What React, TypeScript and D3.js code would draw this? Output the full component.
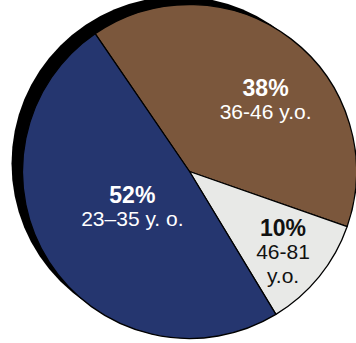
import React from "react";
import * as d3 from "d3";

// Slice order (clockwise from the top-left boundary)
const categories = ["36-46 y.o.", "46-81 y.o.", "23–35 y. o."];
const percentLabels = ["38%", "10%", "52%"];
const ageLines = [["36-46 y.o."], ["46-81", "y.o."], ["23–35 y. o."]];
// Slice sizes as drawn in the picture (angle shares, %)
const sliceShares = [39.9, 11.0, 49.1];
const sliceColors = ["#7B573C", "#E8E9E7", "#25366F"];
const textColors = ["#ffffff", "#111111", "#ffffff"];

const W = 356;
const H = 343;
const cx = 189.5;
const cy = 171.5;
const R = 167;
const startDeg = -34.4;
const shadowDx = -11;
const shadowDy = -8;

// label placement (layout): [angle offset from slice mid (deg), radius fraction]
const labelLayout: [number, number][] = [
  [8.9, 0.63],
  [1.3, 0.735],
  [1.6, 0.4],
];

export default function App() {
  const toRad = (d: number) => (d * Math.PI) / 180;
  const pie = d3
    .pie<number>()
    .sort(null)
    .value((d) => d)
    .startAngle(toRad(startDeg))
    .endAngle(toRad(startDeg + 360));
  const arcs = pie(sliceShares);
  const arc = d3.arc<d3.PieArcDatum<number>>().innerRadius(0).outerRadius(R);
  const lineH = 23.5;
  const font = "'Liberation Sans', Arial, Helvetica, sans-serif";

  return (
    <svg
      width={W}
      height={H}
      style={{ position: "absolute", left: 0, top: 0 }}
      fontFamily={font}
    >
      <circle cx={cx + shadowDx} cy={cy + shadowDy} r={R} fill="#000" />
      <g transform={`translate(${cx},${cy})`}>
        {arcs.map((a, i) => (
          <path
            key={categories[i]}
            d={arc(a) || ""}
            fill={sliceColors[i]}
            stroke="#000"
            strokeWidth={1.3}
            strokeLinejoin="round"
          />
        ))}
        {arcs.map((a, i) => {
          const mid = (a.startAngle + a.endAngle) / 2 + toRad(labelLayout[i][0]);
          const rr = R * labelLayout[i][1];
          const x = rr * Math.sin(mid);
          const y = -rr * Math.cos(mid);
          const lines = [percentLabels[i], ...ageLines[i]];
          const n = lines.length;
          const first = -((n - 1) * lineH) / 2 + 8.5;
          return (
            <g key={"l" + i} fill={textColors[i]} textAnchor="middle">
              {lines.map((t, j) => (
                <text
                  key={j}
                  x={x}
                  y={y + first + j * lineH}
                  fontSize={j === 0 ? 23 : 21}
                  fontWeight={j === 0 ? 700 : 400}
                >
                  {t}
                </text>
              ))}
            </g>
          );
        })}
      </g>
    </svg>
  );
}
